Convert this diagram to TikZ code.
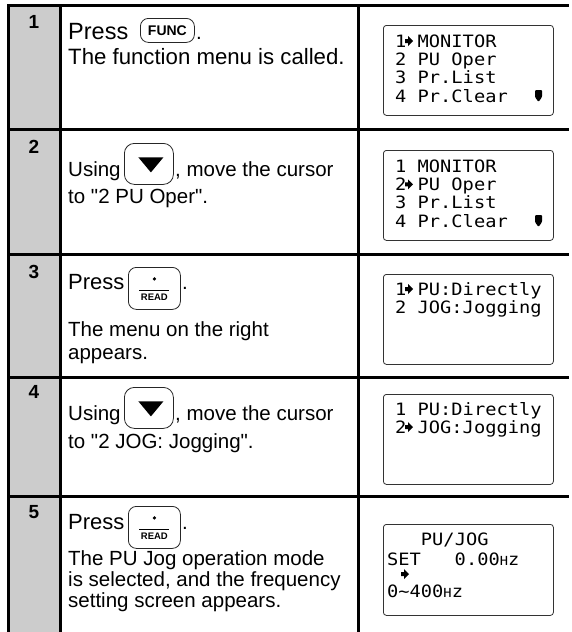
\documentclass[tikz,border=0pt]{standalone}
\usepackage{fontspec}
\setmainfont{Liberation Sans}
\newfontfamily\lcdfont[FakeStretch=1.1]{DejaVu Sans Mono}
\usetikzlibrary{positioning,calc}

\begin{document}
\begin{tikzpicture}[x=1pt, y=-1pt,
    txt/.style={anchor=base west, inner sep=0pt, font=\fontsize{20.5}{21}\selectfont},
    press/.style={anchor=base west, inner sep=0pt, font=\fontsize{22}{23}\selectfont},
    stepno/.style={anchor=base, inner sep=0pt, font=\bfseries\fontsize{19}{19}\selectfont},
    lcd/.style={draw=black!80, line width=0.8pt, rounded corners=3pt, anchor=north west, minimum width=170pt, minimum height=90pt, inner sep=0pt},
    lcdtxt/.style={anchor=base west, inner sep=0pt, font=\lcdfont\fontsize{17}{17}\selectfont},
    keybox/.style={draw=black!85, line width=0.8pt, rounded corners=8pt, anchor=north west, inner sep=0pt},
    rule/.style={line width=3pt},
    curs/.pic={\fill (0,-4) -- (3,-4) -- (3,-1) -- (8,-6) -- (3,-11) -- (3,-8) -- (0,-8) -- cycle;},
    more/.pic={\fill[rounded corners=1pt] (0,0) -- (7,0) -- (7,7) -- (3.5,12) -- (0,7) -- cycle;},
    downtri/.pic={\fill (-12.5,-7.5) -- (12.5,-7.5) -- (0,7.5) -- cycle;},
    readmark/.pic={\fill (0,-9.5) circle (1.8pt);
        \draw[line width=0.8pt] (-15,2) -- (15,2);
        \node[inner sep=0pt, font=\bfseries\fontsize{9.5}{9.5}\selectfont] (lbl) at (0,8.5) {READ};}
]
    \fill[white] (0,0) rectangle (571,632);
    \useasboundingbox (0,0) rectangle (571,632);

    \fill[gray!40] (8.5,5.5) rectangle (60,632);
    \foreach \y in {5.5,129.5,254.5,377,496.5}
        \draw[rule] (7,\y) -- (569,\y);
    \draw[rule] (8.5,4) -- (8.5,632);
    \draw[rule] (60,4) -- (60,632);
    \draw[rule] (358,4) -- (358,632);

    \node[stepno] (n1) at (34,28) {1};
    \node[stepno] (n2) at (34,153) {2};
    \node[stepno] (n3) at (34,278) {3};
    \node[stepno] (n4) at (34,398) {4};
    \node[stepno] (n5) at (34,518) {5};

    % step 1
    \node[press, font=\fontsize{23.5}{24}\selectfont] (p1) at (68,39) {Press};
    \node[keybox, minimum width=54pt, minimum height=24pt] (kFunc) at (140,18) {\bfseries\fontsize{14}{14}\selectfont FUNC};
    \node[txt] (d1) at (196,39) {.};
    \node[txt, font=\fontsize{22.2}{23}\selectfont] (t1) at (68,64) {The function menu is called.};

    % step 2
    \node[txt] (u2) at (68,176) {Using};
    \node[keybox, minimum width=49pt, minimum height=41pt, rounded corners=10pt] (kDown2) at (124,143) {};
    \pic at ($(kDown2.center)+(2,1)$) {downtri};
    \node[txt] (m2) at (175,176) {, move the cursor};
    \node[txt] (t2) at (68,203) {to \textquotedbl2 PU Oper\textquotedbl.};

    % step 3
    \node[press] (p3) at (68,289) {Press};
    \node[keybox, minimum width=52pt, minimum height=42pt] (kRead3) at (128,267) {};
    \pic (r3) at (kRead3.center) {readmark};
    \node[txt] (d3) at (182,289) {.};
    \node[txt] (t3) at (68,336) {The menu on the right};
    \node[txt] (t3b) at (68,359) {appears.};

    % step 4
    \node[txt] (u4) at (68,420) {Using};
    \node[keybox, minimum width=49pt, minimum height=41pt, rounded corners=10pt] (kDown4) at (124,387) {};
    \pic at ($(kDown4.center)+(2,1)$) {downtri};
    \node[txt] (m4) at (175,420) {, move the cursor};
    \node[txt] (t4) at (68,448) {to \textquotedbl2 JOG: Jogging\textquotedbl.};

    % step 5
    \node[press] (p5) at (68,529) {Press};
    \node[keybox, minimum width=52pt, minimum height=42pt] (kRead5) at (128,506) {};
    \pic (r5) at (kRead5.center) {readmark};
    \node[txt] (d5) at (182,529) {.};
    \node[txt] (t5) at (68,565) {The PU Jog operation mode};
    \node[txt] (t5b) at (68,586) {is selected, and the frequency};
    \node[txt] (t5c) at (68,607) {setting screen appears.};

    % displays
    \node[lcd] (lcd1) at (383,25) {};
    \node[lcdtxt] (l1a) at ($(lcd1.north west)+(12,22)$) {1 MONITOR};
    \node[lcdtxt] (l1b) at ($(lcd1.north west)+(12,40.3)$) {2 PU Oper};
    \node[lcdtxt] (l1c) at ($(lcd1.north west)+(12,58.6)$) {3 Pr.List};
    \node[lcdtxt] (l1d) at ($(lcd1.north west)+(12,77)$) {4 Pr.Clear};
    \pic at ($(l1a.base west)+(10,0)$) {curs};
    \pic at ($(lcd1.north west)+(152,65)$) {more};

    \node[lcd] (lcd2) at (383,150) {};
    \node[lcdtxt] (l2a) at ($(lcd2.north west)+(12,22)$) {1 MONITOR};
    \node[lcdtxt] (l2b) at ($(lcd2.north west)+(12,40.3)$) {2 PU Oper};
    \node[lcdtxt] (l2c) at ($(lcd2.north west)+(12,58.6)$) {3 Pr.List};
    \node[lcdtxt] (l2d) at ($(lcd2.north west)+(12,77)$) {4 Pr.Clear};
    \pic at ($(l2b.base west)+(10,0)$) {curs};
    \pic at ($(lcd2.north west)+(152,65)$) {more};

    \node[lcd] (lcd3) at (383,274) {};
    \node[lcdtxt] (l3a) at ($(lcd3.north west)+(12,21)$) {1 PU:Directly};
    \node[lcdtxt] (l3b) at ($(lcd3.north west)+(12,39)$) {2 JOG:Jogging};
    \pic at ($(l3a.base west)+(10,0)$) {curs};

    \node[lcd] (lcd4) at (383,394) {};
    \node[lcdtxt] (l4a) at ($(lcd4.north west)+(12,21)$) {1 PU:Directly};
    \node[lcdtxt] (l4b) at ($(lcd4.north west)+(12,39)$) {2 JOG:Jogging};
    \pic at ($(l4b.base west)+(10,0)$) {curs};

    \node[lcd, minimum height=91pt] (lcd5) at (383,524) {};
    \node[lcdtxt] (l5a) at ($(lcd5.north west)+(4,21)$) {\ \ \ PU/JOG};
    \node[lcdtxt] (l5b) at ($(lcd5.north west)+(4,41)$) {SET\ \ \ 0.00{\fontsize{12.5}{12.5}\selectfont H}z};
    \node[lcdtxt] (l5d) at ($(lcd5.north west)+(4,73)$) {0\textasciitilde400{\fontsize{12.5}{12.5}\selectfont H}z};
    \pic at ($(lcd5.north west)+(18,56)$) {curs};
\end{tikzpicture}
\end{document}
